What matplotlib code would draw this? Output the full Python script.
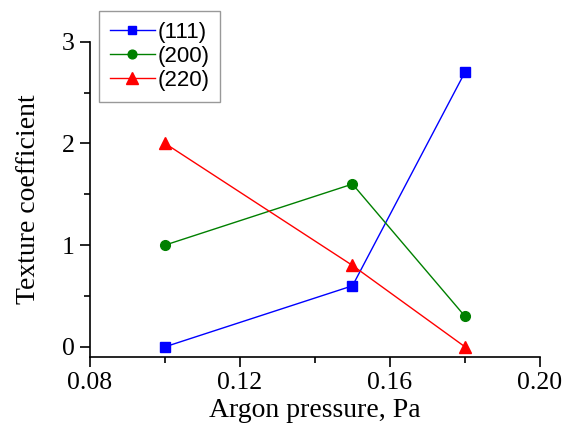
import matplotlib.pyplot as plt
from matplotlib.ticker import MultipleLocator, FormatStrFormatter

# argon pressure (Pa) and texture coefficients of each plane
pressure = [0.10, 0.15, 0.18]
tc_111 = [0.0, 0.6, 2.7]
tc_200 = [1.0, 1.6, 0.3]
tc_220 = [2.0, 0.8, 0.0]
labels = ["(111)", "(200)", "(220)"]

fig = plt.figure(figsize=(5.64, 4.25), dpi=100)
ax = fig.add_axes([0.1596, 0.16, 0.7978, 0.742])

ax.plot(pressure, tc_111, "-s", color="#0000ff", lw=1, ms=6.5, label=labels[0])
ax.plot(pressure, tc_200, "-o", color="#008000", lw=1, ms=7, label=labels[1])
ax.plot(pressure, tc_220, "-^", color="#ff0000", lw=1, ms=9, label=labels[2])

ax.set_xlim(0.08, 0.20)
ax.set_ylim(-0.1, 3.0)
ax.xaxis.set_major_locator(MultipleLocator(0.04))
ax.xaxis.set_minor_locator(MultipleLocator(0.02))
ax.xaxis.set_major_formatter(FormatStrFormatter("%.2f"))
ax.yaxis.set_major_locator(MultipleLocator(1))
ax.yaxis.set_minor_locator(MultipleLocator(0.5))

for side in ["top", "right"]:
    ax.spines[side].set_visible(False)
for side in ["left", "bottom"]:
    ax.spines[side].set_linewidth(1.2)

ax.tick_params(which="major", direction="out", length=7, width=1.2, pad=4,
               labelsize=18.5, labelfontfamily="Liberation Serif")
ax.tick_params(which="minor", direction="out", length=4, width=1.2)

ax.set_xlabel("Argon pressure, Pa", fontsize=20, family="Liberation Serif", labelpad=3)
ax.set_ylabel("Texture coefficient", fontsize=20, family="Liberation Serif", labelpad=15)

leg = ax.legend(loc="upper left", bbox_to_anchor=(0.02, 1.097),
                prop={"family": "Liberation Sans", "size": 16},
                frameon=True, fancybox=False, edgecolor="#808080",
                handlelength=2.0, handletextpad=0.12, borderpad=0.5,
                borderaxespad=0, labelspacing=0.13, numpoints=1, markerscale=0.9)
leg.get_frame().set_linewidth(1.0)

fig.savefig("out.png", dpi=100)
